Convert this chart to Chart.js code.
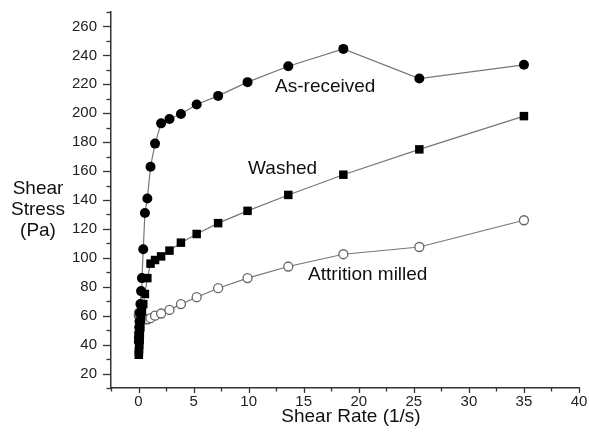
<!DOCTYPE html>
<html>
<head>
<meta charset="utf-8">
<script src="https://cdn.jsdelivr.net/npm/chart.js@4/dist/chart.umd.min.js"></script>
<style>
  html, body { margin: 0; padding: 0; background: #fff; }
  #wrap { width: 589px; height: 434px; position: relative; }
</style>
</head>
<body>
<div id="wrap"><canvas id="myChart"></canvas></div>
<script>
// valeurs
const shearRate = [0.025, 0.035, 0.047, 0.065, 0.089, 0.122, 0.167, 0.23, 0.31, 0.43, 0.58, 0.80,
  1.09, 1.50, 2.05, 2.81, 3.85, 5.28, 7.23, 9.9, 13.6, 18.6, 25.5, 35.0];
const asReceived = [42, 45, 48, 52, 56, 62, 68, 77, 86, 106, 131, 141,
  163, 179, 193, 196, 199.5, 206, 212, 221.5, 232.5, 244.5, 224, 233.5];
const washed = [33, 35, 37, 40, 43, 47, 52, 58, 63, 68, 75, 86,
  96, 98.5, 101, 105, 110.5, 116.5, 124, 132.5, 143.5, 157.5, 175, 198];
const attritionMilled = [60, 61, 62, 62, 61, 60.5, 60, 59.5, 59, 58, 57.5, 57.5,
  58.3, 60, 61.5, 64, 68, 72.8, 79, 86, 94, 102.5, 107.5, 126];

const xTicks = [0, 5, 10, 15, 20, 25, 30, 35, 40];
const yTicks = [20, 40, 60, 80, 100, 120, 140, 160, 180, 200, 220, 240, 260];

// étiquettes posées dans le graphe (coordonnées en unités des axes)
const seriesLabels = [
  { text: "As-received", x: 12.4, y: 218 },
  { text: "Washed", x: 9.95, y: 161.5 },
  { text: "Attrition milled", x: 15.4, y: 88.3 },
];

const FONT = "'Liberation Sans', Arial, sans-serif";

function pts(ys) {
  return shearRate.map((x, i) => ({ x: x, y: ys[i] }));
}

const data = {
  datasets: [
    {
      label: "As-received",
      data: pts(asReceived),
      borderColor: "#777",
      borderWidth: 1.2,
      pointStyle: "circle",
      pointRadius: 5,
      pointBackgroundColor: "#000",
      pointBorderColor: "#000",
      pointBorderWidth: 0,
    },
    {
      label: "Washed",
      data: pts(washed),
      borderColor: "#777",
      borderWidth: 1.2,
      pointStyle: "rect",
      pointRadius: 6,
      pointBackgroundColor: "#000",
      pointBorderColor: "#000",
      pointBorderWidth: 0,
    },
    {
      label: "Attrition milled",
      data: pts(attritionMilled),
      borderColor: "#777",
      borderWidth: 1.2,
      pointStyle: "circle",
      pointRadius: 4.5,
      pointBackgroundColor: "#fff",
      pointBorderColor: "#666",
      pointBorderWidth: 1.3,
    },
  ],
};

// petits traits (majeurs + mineurs), titres, étiquettes
const decor = {
  id: "decor",
  afterDraw(chart) {
    const ctx = chart.ctx;
    const xs = chart.scales.x;
    const ys = chart.scales.y;
    const area = chart.chartArea;
    ctx.save();
    ctx.strokeStyle = "#333";
    ctx.lineWidth = 1.3;
    // x ticks
    for (let v = -2.5; v <= 40.001; v += 2.5) {
      const px = Math.round(xs.getPixelForValue(v)) + 0.5;
      const len = xTicks.includes(v) ? 5 : 3.5;
      ctx.beginPath();
      ctx.moveTo(px, area.bottom);
      ctx.lineTo(px, area.bottom + len);
      ctx.stroke();
    }
    // y ticks
    for (let v = 10; v <= 270.001; v += 10) {
      const py = Math.round(ys.getPixelForValue(v)) + 0.5;
      const len = yTicks.includes(v) ? 8 : 4.5;
      ctx.beginPath();
      ctx.moveTo(area.left, py);
      ctx.lineTo(area.left - len, py);
      ctx.stroke();
    }
    ctx.fillStyle = "#111";
    ctx.font = "19px " + FONT;
    ctx.textBaseline = "middle";
    // titre axe x
    ctx.textAlign = "center";
    ctx.fillText("Shear Rate (1/s)", 351, 417);
    // titre axe y, à l'horizontale
    ctx.fillText("Shear", 38, 189);
    ctx.fillText("Stress", 38, 210);
    ctx.fillText("(Pa)", 38, 231);
    // noms des courbes
    ctx.textAlign = "left";
    seriesLabels.forEach((l) => {
      ctx.fillText(l.text, xs.getPixelForValue(l.x), ys.getPixelForValue(l.y));
    });
    ctx.restore();
  },
};

const config = {
  type: "line",
  data: data,
  options: {
    responsive: true,
    maintainAspectRatio: false,
    animation: false,
    layout: { padding: { top: 12, right: 10, left: 0, bottom: 0 } },
    plugins: { legend: false, tooltip: { enabled: false } },
    scales: {
      x: {
        type: "linear",
        min: -2.5,
        max: 40,
        grid: { display: false, drawTicks: false, tickLength: 0 },
        border: { display: true, color: "#333", width: 1.5 },
        afterFit: (s) => { s.height = 46; s.paddingLeft = 0; s.paddingRight = 0; },
        afterBuildTicks: (s) => { s.ticks = xTicks.map((v) => ({ value: v })); },
        ticks: {
          padding: 5,
          color: "#222",
          font: { family: FONT, size: 15 },
          maxRotation: 0,
          autoSkip: false,
        },
      },
      y: {
        type: "linear",
        min: 10,
        max: 270,
        grid: { display: false, drawTicks: false, tickLength: 0 },
        border: { display: true, color: "#333", width: 1.5 },
        afterFit: (s) => { s.width = 111; s.paddingTop = 0; s.paddingBottom = 0; },
        afterBuildTicks: (s) => { s.ticks = yTicks.map((v) => ({ value: v })); },
        ticks: {
          padding: 14,
          color: "#222",
          font: { family: FONT, size: 15 },
          autoSkip: false,
        },
      },
    },
  },
  plugins: [decor],
};

let context = document.getElementById("myChart").getContext("2d");
let chart = new Chart(context, config);
</script>
</body>
</html>
